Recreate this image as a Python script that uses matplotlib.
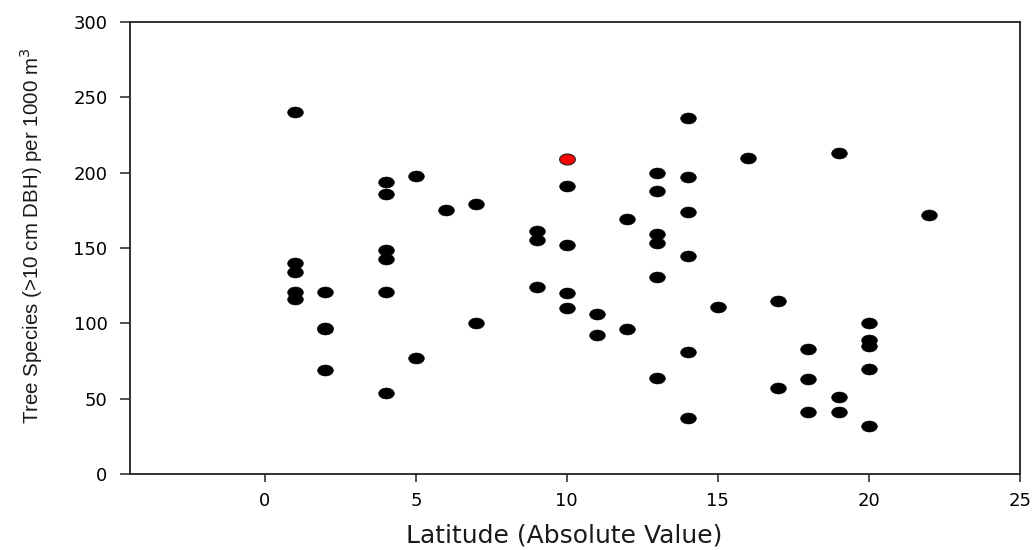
import numpy as np
import matplotlib.pyplot as plt
from matplotlib.path import Path

# -----------------------------
# Data
# -----------------------------
latitude = [1, 1, 1, 1, 1,
            2, 2, 2, 2,
            4, 4, 4, 4, 4, 4,
            5, 5,
            6,
            7, 7,
            9, 9, 9,
            10, 10, 10, 10,
            11, 11,
            12, 12,
            13, 13, 13, 13, 13, 13,
            14, 14, 14, 14, 14, 14,
            15,
            16,
            17, 17,
            18, 18, 18,
            19, 19, 19,
            20, 20, 20, 20, 20,
            22]
species = [240, 140, 134, 121, 116,
           121, 97, 96, 69,
           194, 186, 149, 143, 121, 54,
           198, 77,
           175,
           179, 100,
           161, 155, 124,
           191, 152, 120, 110,
           106, 92,
           169, 96,
           200, 188, 159, 153, 131, 64,
           236, 197, 174, 145, 81, 37,
           111,
           210,
           115, 57,
           83, 63, 41,
           213, 51, 41,
           100, 89, 85, 70, 32,
           172]

# highlighted site
red_latitude = [10]
red_species = [209]

x_ticks = [0, 5, 10, 15, 20, 25]
y_ticks = [0, 50, 100, 150, 200, 250, 300]

# -----------------------------
# Elliptical marker (points are wider than tall)
# -----------------------------
theta = np.linspace(0, 2 * np.pi, 60)
ellipse = Path(np.column_stack([np.cos(theta), 0.7 * np.sin(theta)]), closed=True)

fig = plt.figure(figsize=(10.33, 5.5), dpi=100)
ax = fig.add_axes([0.1258, 0.1382, 0.8613, 0.8218])

ax.plot(latitude, species, linestyle="none", marker=ellipse, markersize=11.3,
        markerfacecolor="black", markeredgecolor="black", markeredgewidth=0.4)
ax.plot(red_latitude, red_species, linestyle="none", marker=ellipse, markersize=11.3,
        markerfacecolor="#ff0000", markeredgecolor="#202020", markeredgewidth=0.8)

ax.set_xlim(-4.47, 25)
ax.set_ylim(0, 300)
ax.set_xticks(x_ticks)
ax.set_yticks(y_ticks)

for side in ["left", "right", "top", "bottom"]:
    ax.spines[side].set_linewidth(1.3)
    ax.spines[side].set_color("#222222")

ax.tick_params(axis="x", direction="out", length=5.8, width=1.1, color="#222222",
               pad=7, labelsize=13)
ax.tick_params(axis="y", direction="out", length=7.2, width=1.1, color="#222222",
               pad=9, labelsize=13)

ax.set_xlabel("Latitude (Absolute Value)", fontsize=18, color="#1a1a1a")
ax.xaxis.set_label_coords(0.488, -0.110)

ax.set_ylabel("Tree Species (>10 cm DBH) per 1000 m$^3$", fontsize=14.8,
              family="Liberation Sans", color="#1a1a1a")
ax.yaxis.set_label_coords(-0.0955, 0.528)

fig.savefig("out.png", dpi=100)
